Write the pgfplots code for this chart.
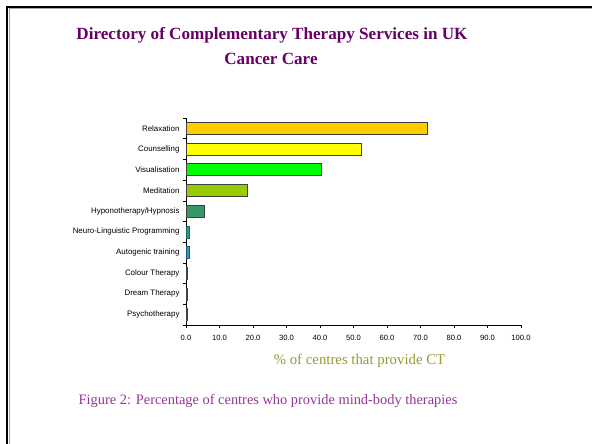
\documentclass[border=0pt]{standalone}
\usepackage{pgfplots}
\pgfplotsset{compat=1.18}
\usepackage{fontspec}
\setmainfont{Liberation Serif}
\newfontfamily\arial{Liberation Sans}
\definecolor{titlepurple}{HTML}{660066}
\definecolor{cappurple}{HTML}{993399}
\definecolor{olivelab}{HTML}{999933}
\definecolor{cRel}{HTML}{FFCC00}
\definecolor{cCou}{HTML}{FFFF00}
\definecolor{cVis}{HTML}{00FF00}
\definecolor{cMed}{HTML}{99CC00}
\definecolor{cHyp}{HTML}{339966}
\definecolor{cNLP}{HTML}{339999}
\definecolor{cAut}{HTML}{3399CC}
\definecolor{cDark}{HTML}{000066}
\begin{document}
\begin{tikzpicture}[x=1pt,y=1pt]
\useasboundingbox (0,0) rectangle (592,444);
\fill[white] (0,0) rectangle (592,444);
% frame
\draw[gray!70,line width=1pt] (9,0) -- (9,435.5) -- (592,435.5);
\draw[black,line width=2pt] (7,0) -- (7,437) -- (592,437);
% titles
\node[anchor=base,font=\bfseries\fontsize{17.1}{20}\selectfont,text=titlepurple] at (272,444-40) {Directory of Complementary Therapy Services in UK};
\node[anchor=base,font=\bfseries\fontsize{17.1}{20}\selectfont,text=titlepurple] at (271,444-65) {Cancer Care};
\node[anchor=base,font=\fontsize{14.4}{16}\selectfont,text=cappurple] at (268,444-405) {Figure 2: Percentage of centres who provide mind-body therapies};
\begin{axis}[
  at={(186pt,119pt)}, anchor=south west,
  scale only axis, width=335pt, height=207pt,
  xmin=0, xmax=100, ymin=-0.5, ymax=9.5, y dir=reverse,
  axis lines*=left,
  axis line style={black, line width=0.6pt},
  xbar, bar width=12pt, bar shift=0pt,
  xtick={0,10,...,100},
  xticklabel style={font=\arial\fontsize{7.6}{8}\selectfont, yshift=-4pt},
  /pgf/number format/assume math mode=true,
  /pgf/number format/fixed, /pgf/number format/fixed zerofill, /pgf/number format/precision=1,
  ytick={0,...,9},
  yticklabels={Relaxation,Counselling,Visualisation,Meditation,Hyponotherapy/Hypnosis,Neuro-Linguistic Programming,Autogenic training,Colour Therapy,Dream Therapy,Psychotherapy},
  yticklabel style={font=\arial\fontsize{7.9}{8}\selectfont},
  ytick style={draw=none},
  extra y ticks={-0.5,0.5,...,9.5},
  extra y tick labels={},
  extra y tick style={ytick style={draw=black, line width=0.5pt}},
  tick align=outside, major tick length=3pt,
  xtick style={black, line width=0.5pt},
  xlabel={\% of centres that provide CT},
  xlabel style={font=\fontsize{14.8}{16}\selectfont, text=olivelab, yshift=-6pt, xshift=6pt},
  clip=false,
]
\addplot[fill=cRel, draw=black!75, line width=0.8pt] coordinates {(72.0,0)};
\addplot[fill=cCou, draw=black!75, line width=0.8pt] coordinates {(52.5,1)};
\addplot[fill=cVis, draw=black!75, line width=0.8pt] coordinates {(40.3,2)};
\addplot[fill=cMed, draw=black!75, line width=0.8pt] coordinates {(18.2,3)};
\addplot[fill=cHyp, draw=black!75, line width=0.8pt] coordinates {(5.4,4)};
\addplot[fill=cNLP, draw=cNLP!60!black, line width=0.3pt] coordinates {(0.8,5)};
\addplot[fill=cAut, draw=cAut!60!black, line width=0.3pt] coordinates {(0.8,6)};
\addplot[fill=cDark, draw=black!75, line width=0.5pt] coordinates {(0.3,7)};
\addplot[fill=cDark, draw=black!75, line width=0.5pt] coordinates {(0.3,8)};
\addplot[fill=cDark, draw=black!75, line width=0.5pt] coordinates {(0.3,9)};
\end{axis}
\end{tikzpicture}
\end{document}
